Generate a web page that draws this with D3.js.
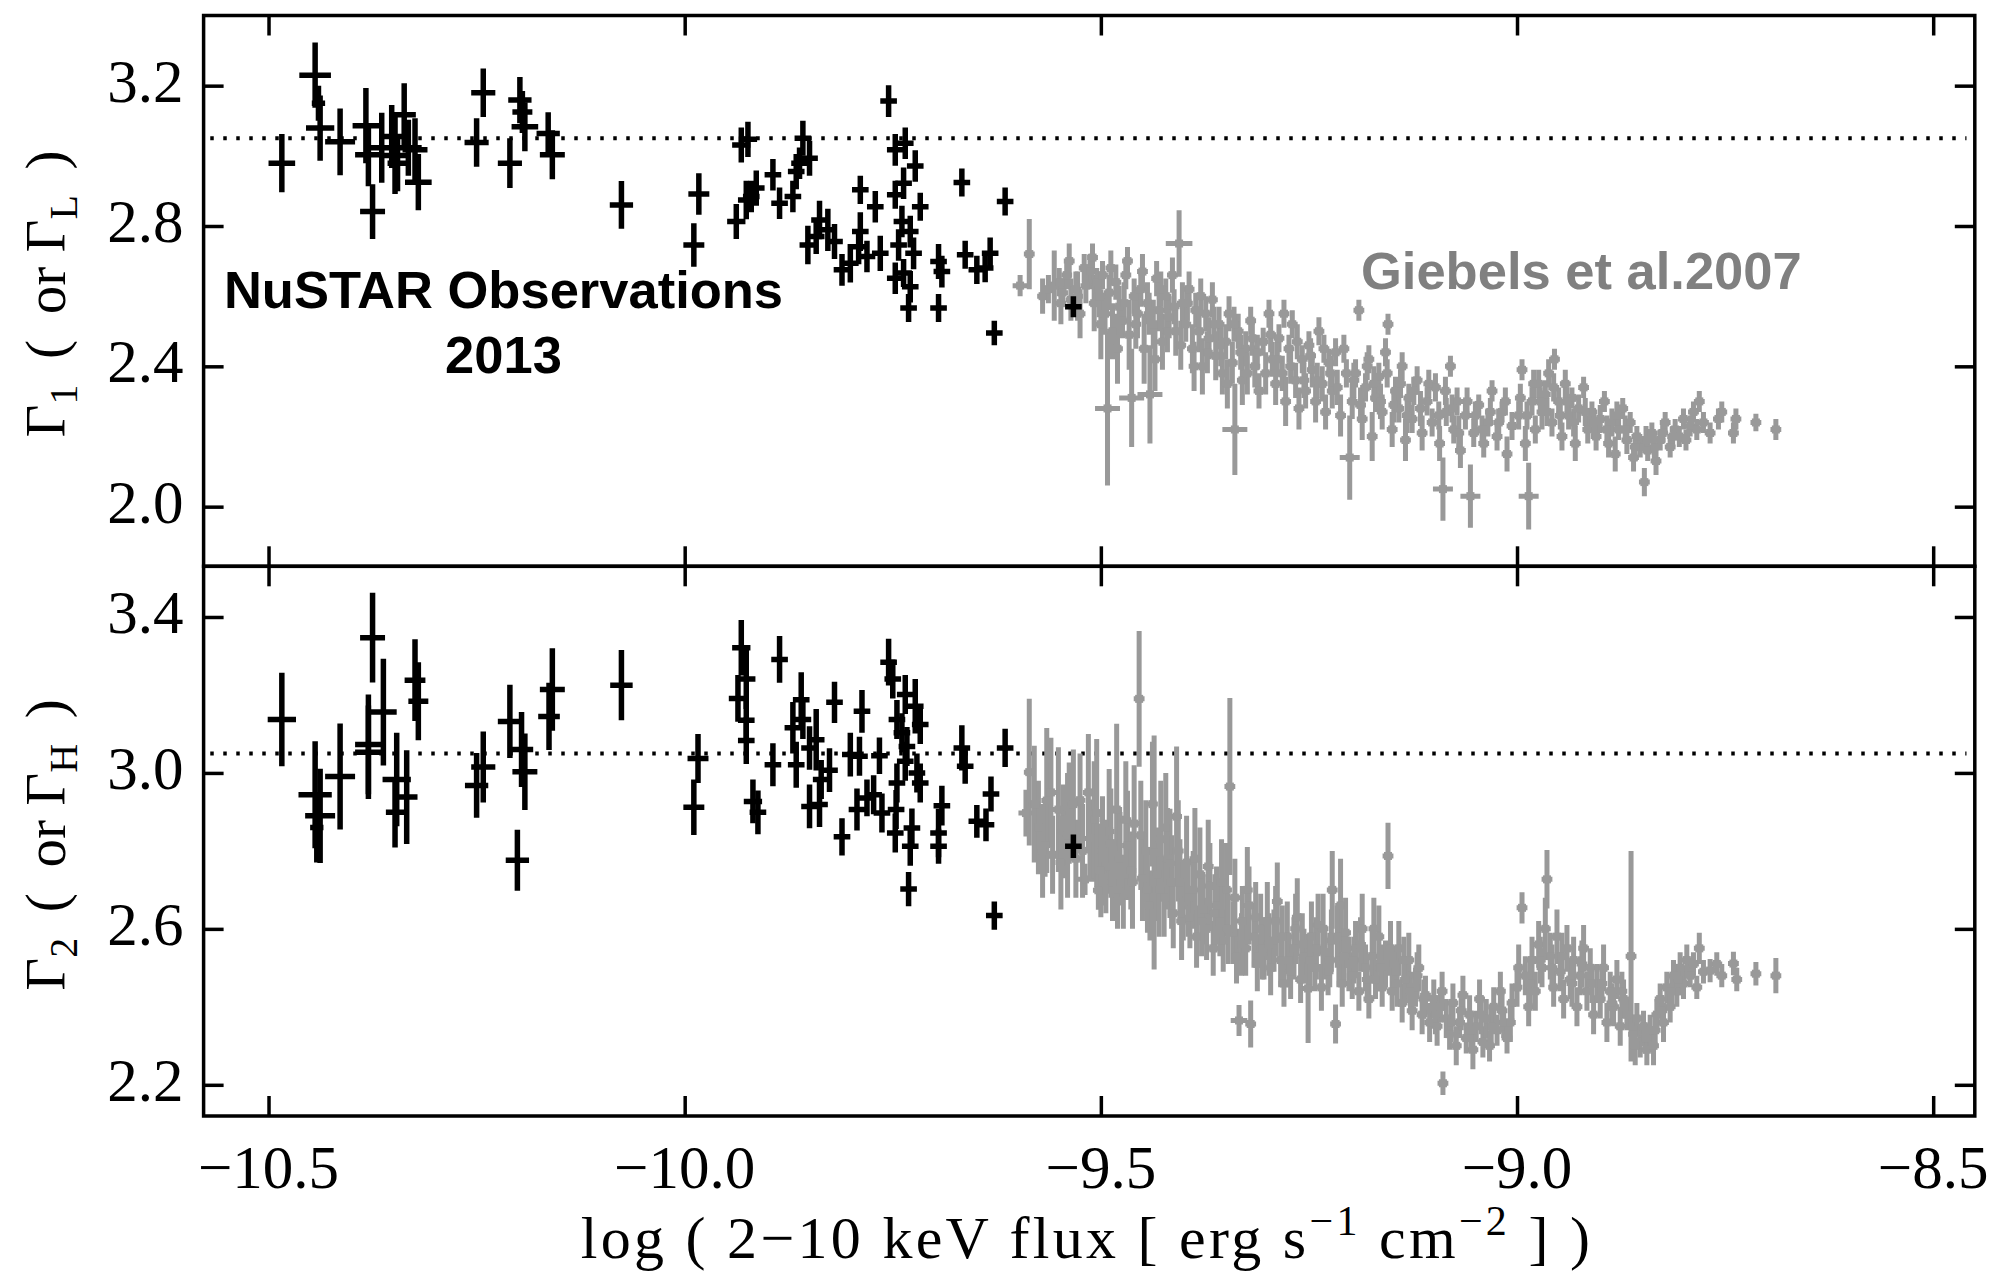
<!DOCTYPE html>
<html><head><meta charset="utf-8">
<script src="https://cdn.jsdelivr.net/npm/d3@7"></script>
<style>body{margin:0;background:#fff}svg{display:block}</style>
</head><body><svg id="c" width="2011" height="1276"></svg>
<script>
// ---------------- DATA ----------------
const xTicks = [-10.5, -10.0, -9.5, -9.0, -8.5];
const xTickLabels = ["\u221210.5", "\u221210.0", "\u22129.5", "\u22129.0", "\u22128.5"];
const topTicks = [2.0, 2.4, 2.8, 3.2];
const botTicks = [2.2, 2.6, 3.0, 3.4];
const refGamma = [3.05, 3.05];          // dotted reference lines (top, bottom)
const refRange = [-10.57, -8.46];

// NuSTAR 2013: [logFlux, Gamma1, yerr, xerr]
const nuTop = [
[-10.484,2.979,.083,.016],[-10.444,3.230,.093,.019],[-10.438,3.079,.093,.017],[-10.440,3.150,.050,.008],
[-10.414,3.040,.095,.018],[-10.383,3.086,.107,.016],[-10.380,3.003,.090,.016],[-10.375,2.841,.078,.015],
[-10.364,3.023,.100,.016],[-10.352,3.055,.090,.015],[-10.348,3.001,.110,.014],[-10.337,3.117,.090,.014],
[-10.332,3.023,.080,.016],[-10.345,2.979,.080,.012],[-10.324,3.017,.090,.015],[-10.320,2.925,.080,.016],
[-10.250,3.038,.069,.0145],[-10.242,3.180,.069,.0145],[-10.210,2.979,.071,.0145],[-10.198,3.159,.066,.014],
[-10.195,3.125,.060,.012],[-10.192,3.083,.070,.016],[-10.164,3.064,.060,.014],[-10.159,3.003,.070,.015],
[-10.076,2.860,.068,.014],
[-9.989,2.746,.062,.0126],[-9.983,2.891,.059,.0126],[-9.938,2.813,.050,.011],[-9.932,3.031,.050,.011],
[-9.924,3.047,.050,.011],[-9.926,2.874,.055,.010],[-9.920,2.884,.045,.010],[-9.914,2.908,.050,.010],
[-9.894,2.946,.045,.010],[-9.886,2.865,.045,.010],[-9.870,2.884,.045,.010],[-9.866,2.955,.050,.010],
[-9.862,2.979,.045,.010],[-9.858,3.050,.050,.010],[-9.850,2.993,.050,.010],[-9.852,2.746,.055,.010],
[-9.838,2.817,.055,.010],[-9.842,2.770,.050,.010],[-9.828,2.789,.060,.010],[-9.820,2.756,.050,.010],
[-9.811,2.675,.045,.010],[-9.801,2.694,.055,.010],[-9.789,2.903,.040,.010],[-9.789,2.784,.055,.010],
[-9.791,2.741,.050,.010],[-9.781,2.713,.045,.010],[-9.771,2.855,.045,.010],[-9.765,2.722,.050,.010],
[-9.755,3.156,.045,.010],[-9.747,3.017,.045,.010],[-9.735,3.036,.045,.010],[-9.723,2.971,.045,.010],
[-9.747,2.889,.040,.010],[-9.737,2.922,.045,.010],[-9.717,2.855,.040,.010],[-9.739,2.813,.045,.010],
[-9.729,2.784,.045,.010],[-9.725,2.722,.045,.010],[-9.743,2.746,.045,.010],[-9.747,2.651,.045,.010],
[-9.737,2.666,.040,.010],[-9.729,2.627,.045,.010],[-9.731,2.566,.040,.010],[-9.695,2.566,.040,.010],
[-9.695,2.699,.050,.010],[-9.691,2.670,.045,.010],[-9.667,2.924,.040,.010],[-9.663,2.718,.040,.010],
[-9.649,2.675,.040,.010],[-9.639,2.680,.040,.010],[-9.633,2.722,.045,.010],[-9.615,2.870,.040,.010],
[-9.628,2.495,.035,.010],[-9.533,2.570,.030,.010]
];
// NuSTAR 2013: [logFlux, Gamma2, yerr, xerr]
const nuBot = [
[-10.484,3.137,.120,.017],[-10.444,2.944,.137,.020],[-10.438,2.890,.121,.018],[-10.442,2.860,.090,.008],
[-10.414,2.991,.136,.018],[-10.375,3.347,.115,.015],[-10.380,3.073,.128,.016],[-10.380,3.053,.120,.016],
[-10.362,3.156,.137,.016],[-10.346,2.983,.120,.017],[-10.348,2.899,.090,.011],[-10.334,2.938,.120,.013],
[-10.324,3.238,.105,.0125],[-10.320,3.184,.100,.012],
[-10.250,2.968,.083,.014],[-10.242,3.015,.091,.0145],[-10.210,3.132,.094,.0145],[-10.201,2.776,.078,.014],
[-10.196,3.060,.096,.014],[-10.192,3.003,.098,.015],[-10.163,3.145,.086,.013],[-10.159,3.214,.106,.015],
[-10.076,3.225,.090,.0135],
[-9.984,3.037,.063,.0126],[-9.989,2.912,.071,.0126],[-9.932,3.321,.071,.011],[-9.926,3.241,.077,.011],
[-9.936,3.191,.060,.011],[-9.926,3.135,.050,.010],[-9.926,3.083,.060,.010],[-9.918,2.927,.056,.011],
[-9.912,2.899,.056,.010],[-9.886,3.291,.060,.010],[-9.894,3.021,.055,.010],[-9.866,3.021,.059,.010],
[-9.870,3.116,.066,.010],[-9.860,3.188,.070,.010],[-9.858,3.137,.050,.010],[-9.850,3.064,.056,.010],
[-9.850,2.914,.056,.010],[-9.842,3.085,.079,.010],[-9.838,2.919,.058,.010],[-9.836,2.983,.050,.010],
[-9.826,3.007,.056,.010],[-9.820,3.181,.053,.010],[-9.811,2.836,.048,.010],[-9.801,3.047,.056,.010],
[-9.793,2.906,.054,.010],[-9.790,3.043,.050,.010],[-9.787,3.158,.055,.010],[-9.781,2.936,.047,.010],
[-9.773,2.944,.050,.010],[-9.766,3.044,.047,.010],[-9.763,2.897,.050,.010],[-9.755,3.284,.060,.010],
[-9.750,3.241,.050,.010],[-9.735,3.201,.050,.010],[-9.723,3.171,.070,.010],[-9.717,3.124,.050,.010],
[-9.745,3.137,.050,.010],[-9.739,3.103,.050,.010],[-9.733,3.068,.050,.010],[-9.735,3.030,.050,.010],
[-9.721,3.000,.050,.010],[-9.717,2.974,.050,.010],[-9.745,2.974,.050,.010],[-9.746,2.906,.050,.010],
[-9.747,2.846,.050,.010],[-9.727,2.859,.050,.010],[-9.729,2.812,.050,.010],[-9.731,2.702,.044,.010],
[-9.695,2.846,.062,.010],[-9.691,2.916,.051,.010],[-9.695,2.812,.045,.010],[-9.667,3.064,.058,.010],
[-9.663,3.017,.045,.010],[-9.649,2.876,.042,.010],[-9.638,2.867,.042,.010],[-9.632,2.946,.045,.010],
[-9.615,3.064,.049,.010],[-9.628,2.634,.036,.010],[-9.533,2.812,.030,.010]
];

// Giebels et al. 2007: [logFlux, Gamma1, yerr, (xerr)]
const gbTop = [
[-9.597,2.63,.03,.009],[-9.586,2.72,.10],[-9.570,2.60,.05],[-9.563,2.62,.04],[-9.556,2.63,.10],[-9.550,2.64,.04],
[-9.546,2.61,.04],[-9.541,2.66,.04],[-9.536,2.59,.06],[-9.530,2.62,.05],[-9.525,2.55,.07],[-9.520,2.68,.04],
[-9.513,2.67,.05],[-9.508,2.58,.08],[-9.505,2.64,.04],[-9.500,2.52,.10],[-9.498,2.66,.04],[-9.492,2.28,.22,.015],
[-9.495,2.55,.06],[-9.490,2.61,.05],[-9.486,2.50,.08],[-9.482,2.64,.05],[-9.478,2.57,.06],[-9.474,2.53,.05],
[-9.470,2.66,.04],[-9.466,2.49,.10],[-9.463,2.31,.14,.015],[-9.460,2.60,.05],[-9.456,2.55,.07],[-9.452,2.62,.05],
[-9.448,2.45,.10],[-9.444,2.58,.06],[-9.441,2.32,.14,.015],[-9.437,2.52,.07],[-9.433,2.65,.05],[-9.430,2.56,.06],
[-9.426,2.47,.08],[-9.422,2.60,.05],[-9.418,2.54,.06],[-9.414,2.66,.05],[-9.410,2.50,.07],[-9.406,2.75,.095,.016],
[-9.402,2.58,.06],
[-9.398,2.52,.05],[-9.394,2.62,.05],[-9.390,2.45,.07],[-9.386,2.56,.05],[-9.382,2.50,.06],[-9.378,2.40,.08],
[-9.374,2.55,.05],[-9.370,2.48,.06],[-9.366,2.59,.05],[-9.362,2.43,.07],[-9.358,2.52,.05],[-9.354,2.38,.06],
[-9.350,2.47,.05],[-9.346,2.55,.05],[-9.342,2.41,.06],[-9.339,2.22,.13,.015],[-9.335,2.50,.05],[-9.330,2.36,.07],
[-9.326,2.45,.05],[-9.320,2.53,.04],[-9.315,2.40,.06],[-9.310,2.33,.05],[-9.305,2.47,.04],
[-9.298,2.55,.04],[-9.294,2.42,.05],[-9.290,2.35,.06],[-9.286,2.48,.04],[-9.282,2.38,.05],[-9.278,2.30,.07],
[-9.274,2.45,.04],[-9.270,2.52,.04],[-9.266,2.36,.05],[-9.262,2.28,.06],[-9.258,2.42,.04],[-9.254,2.33,.05],
[-9.250,2.46,.04],[-9.246,2.39,.05],[-9.242,2.30,.06],[-9.238,2.50,.04],[-9.234,2.35,.05],[-9.230,2.27,.05],
[-9.226,2.41,.04],[-9.222,2.33,.05],[-9.218,2.44,.04],[-9.212,2.26,.06],[-9.205,2.38,.04],[-9.201,2.14,.12,.012],
[-9.198,2.30,.05],[-9.194,2.38,.04],[-9.190,2.56,.03],[-9.186,2.25,.06],[-9.182,2.34,.04],[-9.178,2.42,.04],
[-9.174,2.20,.07],[-9.170,2.31,.04],[-9.166,2.37,.04],[-9.162,2.27,.05],[-9.158,2.44,.04],[-9.155,2.52,.03],
[-9.150,2.22,.05],[-9.146,2.33,.04],[-9.142,2.28,.04],[-9.138,2.40,.04],[-9.134,2.19,.06],[-9.130,2.31,.04],
[-9.126,2.25,.04],[-9.120,2.36,.04],[-9.114,2.21,.05],[-9.108,2.30,.04],[-9.102,2.24,.04],
[-9.098,2.34,.04],[-9.093,2.18,.05],[-9.089,2.05,.09,.012],[-9.085,2.27,.04],[-9.080,2.40,.03],[-9.076,2.22,.04],
[-9.072,2.30,.04],[-9.068,2.16,.05],[-9.062,2.26,.04],[-9.056,2.03,.09,.012],[-9.052,2.21,.04],[-9.046,2.29,.03],
[-9.040,2.18,.04],[-9.035,2.24,.04],[-9.030,2.33,.03],[-9.024,2.20,.04],[-9.018,2.27,.03],[-9.012,2.15,.05],
[-9.006,2.23,.04],
[-8.998,2.26,.04],[-8.994,2.39,.03],[-8.990,2.18,.05],[-8.986,2.03,.095,.012],[-8.982,2.30,.04],[-8.978,2.22,.04],
[-8.974,2.35,.04],[-8.970,2.27,.05],[-8.966,2.32,.04],[-8.962,2.38,.04],[-8.958,2.24,.04],[-8.955,2.42,.03],
[-8.950,2.30,.04],[-8.946,2.20,.04],[-8.942,2.35,.04],[-8.938,2.26,.04],[-8.934,2.31,.03],[-8.930,2.18,.05],
[-8.926,2.28,.04],[-8.920,2.34,.03],[-8.915,2.22,.04],[-8.910,2.27,.03],[-8.905,2.20,.04],
[-8.900,2.25,.04],[-8.895,2.30,.03],[-8.890,2.18,.04],[-8.886,2.24,.04],[-8.882,2.15,.05],[-8.878,2.22,.03],
[-8.873,2.28,.03],[-8.868,2.19,.04],[-8.864,2.24,.03],[-8.860,2.14,.04],[-8.856,2.20,.03],[-8.852,2.17,.03],
[-8.847,2.07,.04],[-8.843,2.16,.03],[-8.838,2.21,.03],[-8.833,2.13,.04],[-8.828,2.19,.03],[-8.822,2.24,.03],
[-8.816,2.17,.03],[-8.810,2.22,.03],[-8.805,2.20,.03],
[-8.800,2.25,.03],[-8.797,2.19,.03],[-8.792,2.23,.03],[-8.788,2.27,.03],[-8.784,2.22,.03],[-8.781,2.30,.03],
[-8.776,2.24,.03],[-8.768,2.21,.03],[-8.758,2.25,.03],[-8.754,2.27,.03],[-8.740,2.21,.03],[-8.737,2.25,.03],
[-8.713,2.24,.025],[-8.689,2.22,.03],
[-9.548,2.58,.06],[-9.538,2.70,.05],[-9.528,2.60,.07],[-9.518,2.63,.05],[-9.510,2.71,.04],[-9.502,2.60,.06],
[-9.488,2.68,.05],[-9.480,2.45,.10],[-9.472,2.58,.06],[-9.468,2.70,.04],[-9.458,2.52,.07],[-9.450,2.67,.05],
[-9.442,2.55,.06],[-9.435,2.42,.09],[-9.428,2.62,.05],[-9.420,2.50,.06],[-9.412,2.57,.05],[-9.404,2.46,.07],
[-9.396,2.58,.05],[-9.388,2.40,.07],[-9.380,2.60,.05],[-9.372,2.44,.06],[-9.364,2.52,.05],[-9.356,2.46,.06],
[-9.348,2.35,.07],[-9.340,2.52,.05],[-9.332,2.44,.05],[-9.324,2.38,.06],[-9.318,2.48,.05],[-9.312,2.44,.05],
[-9.302,2.38,.06],[-9.296,2.49,.05],[-9.288,2.42,.05],[-9.280,2.55,.04],[-9.272,2.40,.05],[-9.264,2.47,.05],
[-9.256,2.36,.05],[-9.248,2.43,.05],[-9.240,2.36,.05],[-9.232,2.45,.04],[-9.224,2.38,.05],[-9.216,2.34,.05],
[-9.208,2.45,.04],[-9.196,2.36,.05],[-9.188,2.29,.05],[-9.180,2.40,.04],[-9.172,2.35,.05],[-9.164,2.30,.05],
[-9.156,2.38,.04],[-9.148,2.29,.05],[-9.140,2.35,.04],[-9.132,2.26,.05],[-9.124,2.33,.04],[-9.116,2.28,.05],
[-9.106,2.35,.04],[-9.094,2.26,.04],[-9.086,2.33,.04],[-9.078,2.28,.04],[-9.070,2.21,.05],[-9.060,2.30,.04],
[-9.050,2.26,.04],[-9.042,2.22,.04],[-9.032,2.27,.04],[-9.022,2.24,.04],[-9.014,2.30,.04],[-8.996,2.31,.04],
[-8.988,2.26,.04],[-8.980,2.35,.04],[-8.972,2.30,.04],[-8.964,2.27,.04],[-8.956,2.34,.04],[-8.948,2.26,.04],
[-8.940,2.30,.04],[-8.932,2.24,.04],[-8.918,2.27,.04],[-8.908,2.24,.04],[-8.892,2.22,.04],[-8.880,2.26,.04],
[-8.870,2.22,.04],[-8.858,2.17,.04],[-8.845,2.19,.04],[-8.835,2.17,.04],[-8.825,2.21,.03],[-8.813,2.20,.03]
];
// Giebels et al. 2007: [logFlux, Gamma2, yerr, (xerr)]
const gbBot = [
[-9.590,2.897,.06,.009],[-9.586,3.002,.188],[-9.575,2.86,.12],[-9.567,2.814,.08],[-9.565,2.929,.186],[-9.558,2.79,.10],
[-9.551,2.906,.16],[-9.545,2.85,.12],[-9.538,2.897,.13],[-9.530,2.78,.10],[-9.525,2.93,.12],[-9.519,2.727,.04,.012],
[-9.513,2.832,.10],[-9.508,2.88,.15],[-9.505,2.897,.19],[-9.503,2.699,.05],[-9.498,2.80,.14],
[-9.494,2.76,.12],[-9.490,2.85,.16],[-9.486,2.72,.10],[-9.481,2.906,.22],[-9.477,2.78,.12],[-9.473,2.69,.09],
[-9.468,2.814,.14],[-9.464,2.75,.10],[-9.460,2.87,.15],[-9.454,3.190,.174],[-9.450,2.73,.11],[-9.446,2.80,.13],
[-9.441,2.66,.09],[-9.436,2.796,.30],[-9.432,2.74,.12],[-9.428,2.83,.15],[-9.424,2.68,.10],[-9.420,2.78,.13],
[-9.417,2.768,.14],[-9.413,2.64,.09],[-9.409,2.888,.18],[-9.405,2.72,.11],[-9.401,2.67,.10],
[-9.397,2.77,.12],[-9.393,2.63,.08],[-9.389,2.70,.10],[-9.385,2.58,.08],[-9.381,2.74,.12],[-9.377,2.65,.09],
[-9.373,2.60,.08],[-9.369,2.71,.11],[-9.365,2.55,.07],[-9.361,2.66,.10],[-9.357,2.62,.09],[-9.353,2.57,.08],
[-9.349,2.70,.12],[-9.345,2.965,.227],[-9.341,2.59,.08],[-9.337,2.53,.07],[-9.334,2.365,.04,.010],[-9.330,2.62,.09],
[-9.326,2.55,.07],[-9.322,2.66,.10],[-9.320,2.356,.06],[-9.316,2.58,.08],[-9.312,2.51,.07],[-9.308,2.60,.09],
[-9.304,2.54,.07],
[-9.300,2.62,.10],[-9.296,2.50,.07],[-9.292,2.57,.08],[-9.288,2.67,.10],[-9.284,2.52,.07],[-9.280,2.46,.06],
[-9.276,2.58,.09],[-9.272,2.49,.07],[-9.268,2.55,.08],[-9.264,2.63,.10],[-9.260,2.47,.06],[-9.256,2.53,.07],
[-9.251,2.447,.14],[-9.247,2.58,.09],[-9.243,2.50,.06],[-9.239,2.61,.08],[-9.235,2.45,.06],[-9.231,2.54,.07],
[-9.227,2.49,.06],[-9.223,2.57,.08],[-9.222,2.70,.10],[-9.218,2.356,.05],[-9.214,2.52,.07],[-9.212,2.66,.12],
[-9.210,2.46,.06],[-9.206,2.59,.09],[-9.202,2.51,.07],
[-9.198,2.48,.06],[-9.194,2.55,.07],[-9.190,2.44,.05],[-9.186,2.60,.09],[-9.182,2.50,.06],[-9.178,2.42,.05],
[-9.174,2.53,.07],[-9.170,2.47,.05],[-9.166,2.58,.08],[-9.162,2.45,.05],[-9.158,2.51,.06],[-9.155,2.787,.085],
[-9.150,2.44,.05],[-9.146,2.49,.06],[-9.142,2.55,.07],[-9.138,2.41,.05],[-9.134,2.47,.06],[-9.130,2.52,.07],
[-9.126,2.39,.05],[-9.122,2.45,.05],[-9.118,2.50,.06],[-9.114,2.38,.05],[-9.110,2.43,.05],[-9.105,2.36,.05],
[-9.100,2.42,.05],[-9.096,2.35,.05],[-9.092,2.40,.04],[-9.089,2.204,.03],[-9.085,2.37,.05],[-9.081,2.33,.04],
[-9.077,2.41,.05],[-9.073,2.30,.05],[-9.069,2.36,.04],[-9.065,2.43,.05],[-9.061,2.32,.04],[-9.057,2.38,.05],
[-9.053,2.29,.05],[-9.049,2.35,.04],[-9.045,2.42,.05],[-9.041,2.31,.04],[-9.037,2.37,.05],[-9.033,2.30,.04],
[-9.028,2.40,.05],[-9.024,2.34,.04],[-9.020,2.44,.05],[-9.016,2.36,.04],[-9.012,2.32,.04],[-9.006,2.41,.05],
[-9.000,2.45,.05],[-8.994,2.654,.04],[-8.990,2.48,.05],[-8.986,2.40,.05],[-8.982,2.52,.06],[-8.978,2.44,.05],
[-8.974,2.56,.06],[-8.970,2.50,.05],[-8.966,2.60,.08],[-8.964,2.727,.075],[-8.960,2.53,.06],[-8.956,2.45,.05],
[-8.952,2.58,.07],[-8.948,2.49,.05],[-8.944,2.42,.05],[-8.940,2.55,.06],[-8.936,2.47,.05],[-8.932,2.52,.06],
[-8.928,2.40,.05],[-8.924,2.48,.05],[-8.920,2.55,.06],[-8.916,2.44,.05],[-8.912,2.50,.05],[-8.908,2.38,.05],
[-8.904,2.46,.05],
[-8.900,2.42,.05],[-8.896,2.50,.06],[-8.892,2.36,.05],[-8.888,2.44,.05],[-8.884,2.40,.05],[-8.880,2.47,.05],
[-8.876,2.35,.05],[-8.872,2.42,.05],[-8.868,2.38,.04],[-8.863,2.53,.27],[-8.860,2.33,.05],[-8.856,2.37,.04],
[-8.852,2.31,.04],[-8.848,2.35,.04],[-8.844,2.29,.04],[-8.840,2.34,.04],[-8.836,2.30,.05],[-8.832,2.38,.04],
[-8.828,2.42,.04],[-8.824,2.36,.05],[-8.820,2.45,.04],[-8.816,2.40,.04],[-8.812,2.48,.04],[-8.808,2.44,.04],
[-8.804,2.50,.04],
[-8.800,2.46,.04],[-8.796,2.52,.04],[-8.792,2.48,.03],[-8.788,2.51,.03],[-8.784,2.45,.03],[-8.781,2.55,.04],
[-8.776,2.49,.03],[-8.768,2.493,.03],[-8.760,2.51,.03],[-8.754,2.480,.03],[-8.740,2.511,.03],[-8.736,2.47,.03],
[-8.713,2.485,.03],[-8.689,2.480,.045],
[-9.580,2.92,.15],[-9.570,2.80,.12],[-9.560,2.95,.14],[-9.548,2.77,.12],[-9.540,2.84,.16],[-9.533,2.92,.14],
[-9.522,2.80,.12],[-9.515,2.95,.15],[-9.500,2.75,.12],[-9.488,2.82,.14],[-9.480,2.70,.10],[-9.470,2.88,.15],
[-9.462,2.72,.12],[-9.452,2.84,.14],[-9.444,2.70,.11],[-9.438,2.92,.16],[-9.430,2.70,.12],[-9.422,2.86,.14],
[-9.415,2.72,.12],[-9.407,2.80,.13],[-9.403,2.62,.10],[-9.395,2.68,.10],[-9.387,2.78,.13],[-9.379,2.62,.09],
[-9.371,2.76,.12],[-9.363,2.64,.10],[-9.355,2.72,.11],[-9.347,2.60,.09],[-9.339,2.68,.10],[-9.331,2.56,.08],
[-9.324,2.70,.11],[-9.314,2.63,.09],[-9.306,2.55,.08],[-9.298,2.56,.08],[-9.290,2.62,.09],[-9.282,2.58,.08],
[-9.274,2.52,.07],[-9.266,2.60,.09],[-9.258,2.56,.08],[-9.249,2.52,.07],[-9.241,2.55,.08],[-9.233,2.60,.09],
[-9.225,2.52,.07],[-9.216,2.58,.08],[-9.208,2.53,.07],[-9.196,2.52,.06],[-9.188,2.56,.07],[-9.180,2.47,.06],
[-9.172,2.60,.08],[-9.164,2.50,.06],[-9.152,2.55,.07],[-9.144,2.46,.06],[-9.136,2.52,.06],[-9.128,2.44,.05],
[-9.120,2.48,.06],[-9.112,2.42,.05],[-9.098,2.38,.05],[-9.090,2.44,.05],[-9.079,2.36,.05],[-9.067,2.39,.05],
[-9.055,2.34,.05],[-9.043,2.38,.05],[-9.031,2.35,.05],[-9.018,2.39,.05],[-9.008,2.36,.05],[-8.998,2.50,.06],
[-8.984,2.46,.06],[-8.972,2.52,.06],[-8.958,2.50,.06],[-8.946,2.53,.06],[-8.934,2.46,.06],[-8.922,2.51,.06],
[-8.910,2.46,.05],[-8.898,2.46,.05],[-8.886,2.41,.05],[-8.874,2.44,.05],[-8.858,2.30,.05],[-8.846,2.32,.04],
[-8.834,2.34,.04],[-8.826,2.39,.04],[-8.814,2.44,.04],[-8.806,2.47,.04]
];

// ---------------- LAYOUT ----------------
const L = 203.6, R = 1974.8;
const panelsDef = [
  {top: 15.5, bottom: 566.3, domain: [1.83, 3.40], ticks: topTicks, nu: nuTop, gb: gbTop, ref: refGamma[0],
   label: {sub1: "1", sub2: "L", cy: 294}},
  {top: 566.3, bottom: 1116, domain: [2.12, 3.53], ticks: botTicks, nu: nuBot, gb: gbBot, ref: refGamma[1],
   label: {sub1: "2", sub2: "H", cy: 845}}
];
const GREY = "#999999", SERIF = "'Liberation Serif','Times New Roman',serif", SANS = "'Liberation Sans',Arial,sans-serif";
const TICK = 20, SW = 3.5;

const svg = d3.select("#c");
svg.append("rect").attr("width", 2011).attr("height", 1276).attr("fill", "#fff");
const x = d3.scaleLinear().domain([-10.578, -8.45]).range([L, R]);
const GB_XERR = 0.0065;

function crossPath(d, y, defXerr) {
  const cx = x(d[0]), cy = y(d[1]);
  const y0 = y(d[1] - d[2]), y1 = y(d[1] + d[2]);
  const xe = d.length > 3 ? d[3] : defXerr;
  const x0 = x(d[0] - xe), x1 = x(d[0] + xe);
  return `M${cx},${y0}V${y1}M${x0},${cy}H${x1}`;
}

panelsDef.forEach((p, i) => {
  const y = d3.scaleLinear().domain(p.domain).range([p.bottom, p.top]);
  const g = svg.append("g");
  const cid = "clip" + i;
  svg.append("clipPath").attr("id", cid).append("rect")
    .attr("x", L).attr("y", p.top).attr("width", R - L).attr("height", p.bottom - p.top);
  const plot = g.append("g").attr("clip-path", `url(#${cid})`);

  // dotted reference line
  plot.append("line").attr("x1", x(refRange[0])).attr("x2", x(refRange[1]))
    .attr("y1", y(p.ref)).attr("y2", y(p.ref))
    .attr("stroke", "#000").attr("stroke-width", 4).attr("stroke-dasharray", "3.5,9.5");

  // Giebels et al. 2007 (grey)
  const gg = plot.append("g");
  gg.selectAll("path").data(p.gb).join("path")
    .attr("d", d => crossPath(d, y, GB_XERR))
    .attr("stroke", GREY).attr("stroke-width", 5).attr("fill", "none");
  gg.selectAll("rect").data(p.gb).join("rect")
    .attr("x", d => x(d[0]) - 4).attr("y", d => y(d[1]) - 4).attr("width", 8).attr("height", 8)
    .attr("fill", GREY);

  // NuSTAR (black)
  plot.append("g").selectAll("path").data(p.nu).join("path")
    .attr("d", d => crossPath(d, y, 0.01))
    .attr("stroke", "#000").attr("stroke-width", 5.5).attr("fill", "none");

  // ticks (inward, all four sides) via d3 axes
  const styleAxis = sel => { sel.select(".domain").remove();
    sel.selectAll(".tick line").attr("stroke", "#000").attr("stroke-width", SW);
    sel.selectAll(".tick text").remove(); };
  g.append("g").attr("transform", `translate(0,${p.bottom})`)
    .call(d3.axisTop(x).tickValues(xTicks).tickSize(TICK)).call(styleAxis);
  g.append("g").attr("transform", `translate(0,${p.top})`)
    .call(d3.axisBottom(x).tickValues(xTicks).tickSize(TICK)).call(styleAxis);
  g.append("g").attr("transform", `translate(${L},0)`)
    .call(d3.axisRight(y).tickValues(p.ticks).tickSize(TICK)).call(styleAxis);
  g.append("g").attr("transform", `translate(${R},0)`)
    .call(d3.axisLeft(y).tickValues(p.ticks).tickSize(TICK)).call(styleAxis);

  // y tick labels
  g.append("g").selectAll("text").data(p.ticks).join("text")
    .attr("x", L - 20).attr("y", d => y(d) + 16)
    .attr("text-anchor", "end").attr("font-family", SERIF).attr("font-size", 61)
    .attr("fill", "#000").text(d => d.toFixed(1));

  // frame
  g.append("rect").attr("x", L).attr("y", p.top).attr("width", R - L).attr("height", p.bottom - p.top)
    .attr("fill", "none").attr("stroke", "#000").attr("stroke-width", SW);

  // y axis label
  const lx = 65, ly = p.label.cy;
  const t = g.append("text").attr("transform", `translate(${lx},${ly}) rotate(-90)`)
    .attr("text-anchor", "middle").attr("font-family", SERIF).attr("font-size", 57).attr("fill", "#000");
  t.append("tspan").text("\u0393");
  t.append("tspan").attr("font-size", 40).attr("dy", 12).text(p.label.sub1);
  t.append("tspan").attr("dy", -12).text("\u2009 ( \u2009or \u0393");
  t.append("tspan").attr("font-size", 40).attr("dy", 12).text(p.label.sub2);
  t.append("tspan").attr("dy", -12).text("\u2009 )");
});

// x tick labels
svg.append("g").selectAll("text").data(xTicks).join("text")
  .attr("x", d => x(d)).attr("y", 1188)
  .attr("text-anchor", "middle").attr("font-family", SERIF).attr("font-size", 61)
  .text((d, i) => xTickLabels[i]);

// x axis label (stretched to the reference width 1016 px)
const xl = svg.append("text").attr("x", 1087).attr("y", 1258).attr("text-anchor", "middle")
  .attr("font-family", SERIF).attr("font-size", 60);
xl.append("tspan").text("log ( 2\u221210 keV flux [ erg s");
xl.append("tspan").attr("font-size", 42).attr("dy", -23).text("\u22121");
xl.append("tspan").attr("dy", 23).text("  cm");
xl.append("tspan").attr("font-size", 42).attr("dy", -23).text("\u22122");
xl.append("tspan").attr("dy", 23).text("  ] )");
{
  const node = xl.node();
  const len = node.getComputedTextLength();
  const n = node.textContent.length;
  const extra = (1016 - len) / Math.max(1, n - 1);
  if (extra > 0) xl.attr("letter-spacing", extra.toFixed(2));
}

// annotations
const ann = svg.append("text").attr("font-family", SANS).attr("font-weight", "bold")
  .attr("font-size", 52.5).attr("text-anchor", "middle").attr("fill", "#000");
ann.append("tspan").attr("x", 503.5).attr("y", 308).text("NuSTAR Observations");
ann.append("tspan").attr("x", 503.5).attr("y", 373).text("2013");
svg.append("text").attr("x", 1361).attr("y", 289).attr("font-family", SANS).attr("font-weight", "bold")
  .attr("font-size", 52.5).attr("fill", "#808080").text("Giebels et al.2007");
</script>
</body></html>
